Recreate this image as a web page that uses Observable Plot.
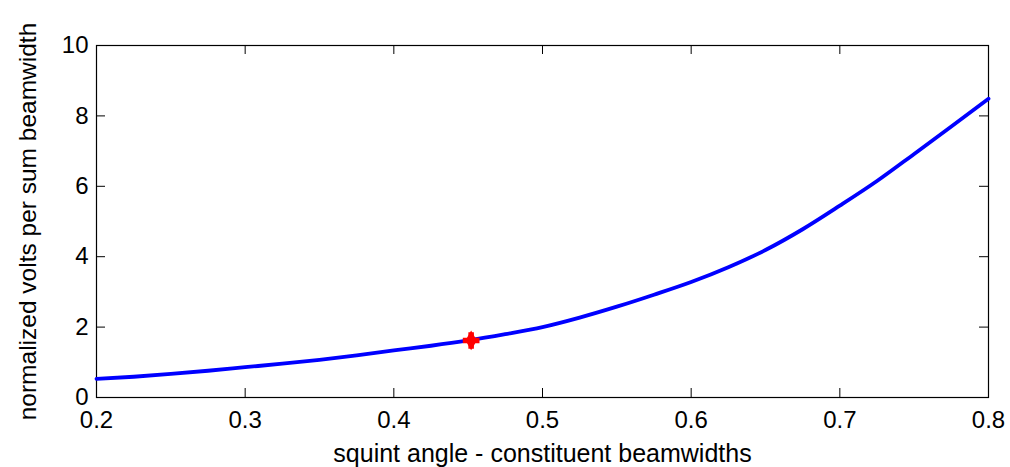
<!DOCTYPE html>
<html><head><meta charset="utf-8">
<script src="https://cdn.jsdelivr.net/npm/d3@7"></script>
<script src="https://cdn.jsdelivr.net/npm/@observablehq/plot@0.6"></script>
<style>
body{margin:0;background:#fff;}
svg{font-family:"Liberation Sans",Arial,sans-serif;}
</style>
</head><body>
<div id="chart"></div>
<script>
const squint = [0.200,0.225,0.250,0.275,0.300,0.325,0.350,0.375,0.400,0.425,0.450,0.475,0.500,0.525,0.550,0.575,0.600,0.625,0.650,0.675,0.700,0.725,0.750,0.775,0.800];
const volts  = [0.53,0.59,0.67,0.76,0.86,0.96,1.07,1.20,1.34,1.47,1.62,1.80,2.00,2.27,2.58,2.92,3.28,3.70,4.19,4.78,5.45,6.15,6.92,7.70,8.49];
const markerX = [0.452];
const markerY = [1.62];
const xTicks = [0.2,0.3,0.4,0.5,0.6,0.7,0.8];
const yTicks = [0,2,4,6,8,10];

const data = squint.map((x,i)=>({x, y: volts[i]}));
const marker = markerX.map((x,i)=>({x, y: markerY[i]}));

const W = 1010, H = 467;
const mL = 96, mR = 22, mT = 45, mB = 70;
const tickPx = 9;
const xTickLen = tickPx/(H-mT-mB)*10;      // in y data units
const yTickLen = tickPx/(W-mL-mR)*0.6;     // in x data units

const chart = Plot.plot({
  width: W, height: H,
  marginLeft: mL, marginRight: mR, marginTop: mT, marginBottom: mB,
  style: {fontSize: "24px", fontFamily: "Liberation Sans, Arial, sans-serif", color: "#000", background: "#fff", overflow: "visible"},
  x: {domain: [0.2, 0.8]},
  y: {domain: [0, 10]},
  marks: [
    Plot.frame({stroke: "#000", strokeWidth: 1.2}),
    Plot.ruleX(xTicks, {x: d=>d, y1: 0, y2: xTickLen, stroke: "#000"}),
    Plot.ruleX(xTicks, {x: d=>d, y1: 10 - xTickLen, y2: 10, stroke: "#000"}),
    Plot.ruleY(yTicks, {y: d=>d, x1: 0.2, x2: 0.2 + yTickLen, stroke: "#000"}),
    Plot.ruleY(yTicks, {y: d=>d, x1: 0.8 - yTickLen, x2: 0.8, stroke: "#000"}),
    Plot.axisX({ticks: xTicks, tickSize: 0, tickPadding: 13, tickFormat: d=>String(d), fontSize: 24, label: null}),
    Plot.axisX({ticks: [], tickSize: 0, fontSize: 25,
      label: "squint angle - constituent beamwidths", labelAnchor: "center", labelArrow: "none", labelOffset: 64}),
    Plot.axisY({ticks: yTicks, tickSize: 0, tickPadding: 8, tickFormat: d=>String(d), fontSize: 24, label: null}),
    Plot.axisY({ticks: [], tickSize: 0, fontSize: 24.5,
      label: "normalized volts per sum beamwidth", labelAnchor: "center", labelArrow: "none", labelOffset: 78}),
    Plot.line(data, {x: "x", y: "y", stroke: "#0000ff", strokeWidth: 3.8, curve: "monotone-x"}),
    Plot.dot(marker, {x: "x", y: "y", symbol: "cross", fill: "#ff0000", r: 7}),
    Plot.dot(marker, {x: "x", y: "y", symbol: "diamond", fill: "#ff0000", r: 6})
  ]
});
document.getElementById("chart").appendChild(chart);
</script>
</body></html>
